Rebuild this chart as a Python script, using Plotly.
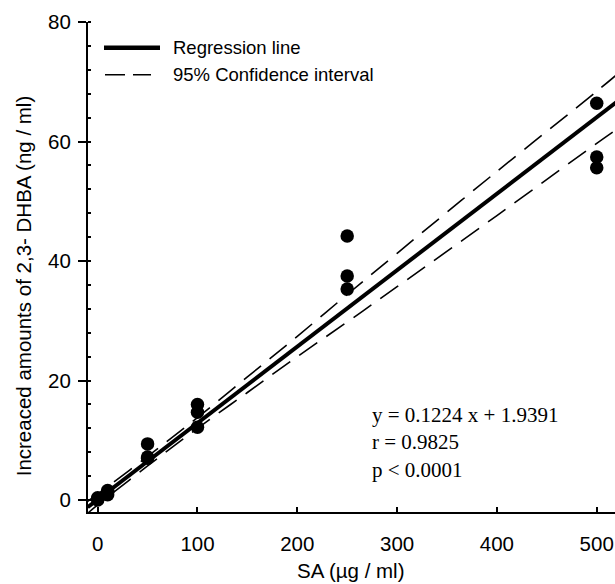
import plotly.graph_objects as go

# measured points (SA dose, increase of 2,3-DHBA)
sa_dose = [0, 0, 0, 10, 10, 10, 50, 50, 50, 100, 100, 100, 250, 250, 250, 500, 500, 500]
dhba = [0.0, 0.2, 0.4, 0.9, 1.3, 1.6, 9.4, 7.2, 7.0, 16.0, 14.7, 12.2, 44.2, 37.5, 35.3, 66.4, 57.4, 55.6]

# regression line and 95% confidence band as drawn in the figure
reg_x = [-10, 530]
reg_y = [-1.2, 67.9]
ci_x = [-10, 0, 50, 100, 150, 200, 250, 300, 400, 500, 530]
ci_upper = [-0.2, 1.0, 7.3, 13.8, 20.6, 27.4, 34.4, 41.3, 55.0, 68.4, 72.6]
ci_lower = [-2.2, -0.8, 5.7, 12.0, 18.0, 24.0, 29.8, 35.7, 47.6, 59.7, 63.2]

x_ticks = [0, 100, 200, 300, 400, 500]
y_ticks = [0, 20, 40, 60, 80]

stats_text = "y = 0.1224 x + 1.9391<br>r = 0.9825<br>p < 0.0001"

sans = "Liberation Sans, Arial, sans-serif"
serif = "Liberation Serif, Times New Roman, serif"

fig = go.Figure()

for ci in (ci_upper, ci_lower):
    fig.add_trace(go.Scatter(
        x=ci_x, y=ci, mode="lines",
        line=dict(color="black", width=1.6, dash="22px,11px"),
        line_shape="spline", showlegend=False, hoverinfo="skip",
    ))

fig.add_trace(go.Scatter(
    x=reg_x, y=reg_y, mode="lines",
    line=dict(color="black", width=4), showlegend=False,
))

fig.add_trace(go.Scatter(
    x=sa_dose, y=dhba, mode="markers",
    marker=dict(color="black", size=13.5), showlegend=False,
))

# plot area in pixels: x 88..615, y 21.7..511.7
W, H = 615, 584
L, R, T, B = 88, 0, 21.7, 72.3
pw, ph = W - L - R, H - T - B


def px(x):
    return (x - L) / pw


def py(y):
    return (H - B - y) / ph


# legend drawn by hand
fig.add_shape(type="line", xref="paper", yref="paper",
              x0=px(104), x1=px(160), y0=py(47.5), y1=py(47.5),
              line=dict(color="black", width=4.5))
fig.add_shape(type="line", xref="paper", yref="paper",
              x0=px(105), x1=px(151), y0=py(74.5), y1=py(74.5),
              line=dict(color="black", width=1.6, dash="20px,8px"))
for label, yy in [("Regression line", 47.5), ("95% Confidence interval", 74.5)]:
    fig.add_annotation(text=label, xref="paper", yref="paper",
                       x=px(171), y=py(yy), xanchor="left", yanchor="middle",
                       showarrow=False, font=dict(family=sans, size=18.5, color="black"))

fig.add_annotation(text=stats_text, xref="paper", yref="paper",
                   x=px(370), y=py(401), xanchor="left", yanchor="top", align="left",
                   showarrow=False, font=dict(family=serif, size=21, color="black"))

# axis titles
fig.add_annotation(text="Increaced amounts of 2,3- DHBA (ng / ml)", xref="paper", yref="paper",
                   x=px(23), y=py(286), xanchor="center", yanchor="middle", textangle=-90,
                   showarrow=False, font=dict(family=sans, size=20.5, color="black"))
fig.add_annotation(text="SA (µg / ml)", xref="paper", yref="paper",
                   x=px(351), y=py(570), xanchor="center", yanchor="middle",
                   showarrow=False, font=dict(family=sans, size=20.5, color="black"))

fig.update_layout(
    width=W, height=H,
    margin=dict(l=L, r=R, t=T, b=B),
    plot_bgcolor="white", paper_bgcolor="white",
    showlegend=False,
    font=dict(family=sans, size=20.5, color="black"),
    xaxis=dict(
        range=[-9.7, 518.3], tickvals=x_ticks,
        showgrid=False, zeroline=False,
        showline=True, linecolor="black", linewidth=2,
        ticks="inside", ticklen=5, tickwidth=2, tickcolor="black",
        ticklabelstandoff=12,
    ),
    yaxis=dict(
        range=[-2, 80], tickvals=y_ticks,
        showgrid=False, zeroline=False,
        showline=True, linecolor="black", linewidth=2,
        ticks="outside", ticklen=8, tickwidth=2, tickcolor="black",
        ticklabelstandoff=3,
        minor=dict(tickvals=[v for v in range(0, 81, 4)], ticks="inside", ticklen=3,
                   tickwidth=1.5, tickcolor="black", showgrid=False),
    ),
)

# page without body margin so the figure fills the window
fig.write_html("out.html", config={"displayModeBar": False},
               post_script="document.body.style.margin='0px';")
